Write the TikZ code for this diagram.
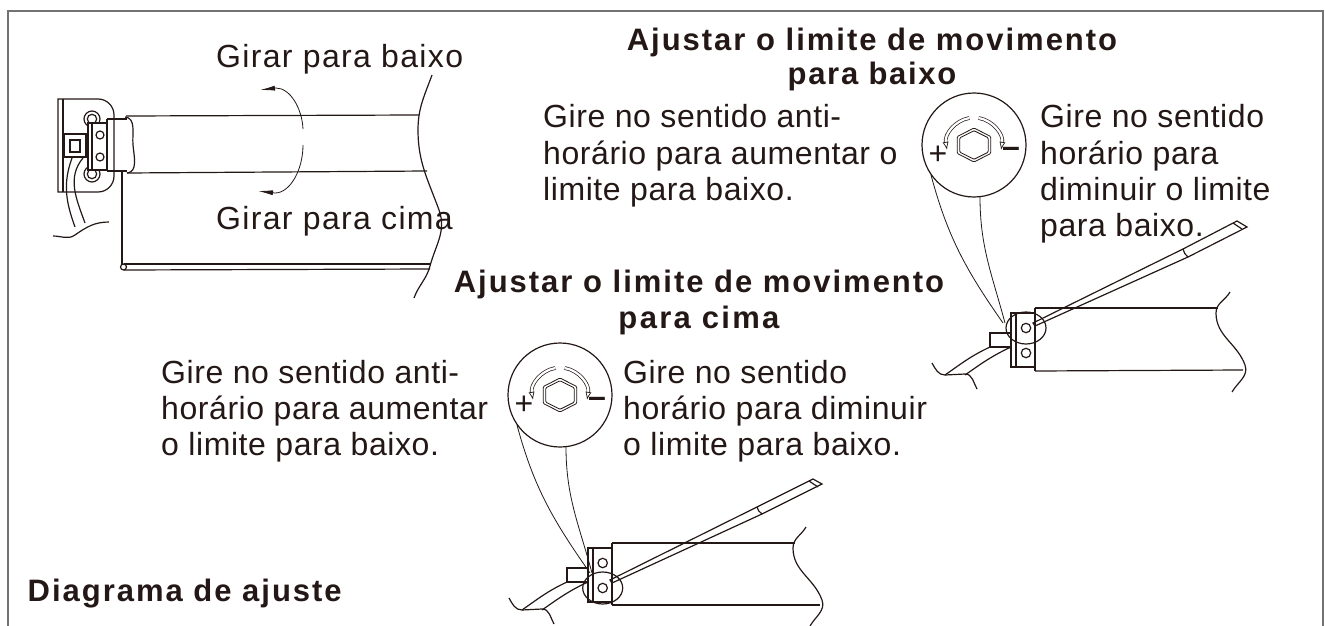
\documentclass[tikz,border=0pt]{standalone}
\usepackage{fontspec}
\setmainfont{Liberation Sans}
\newfontfamily\tracksmall[LetterSpace=1.8]{Liberation Sans}
\newfontfamily\trackfour[LetterSpace=4.2]{Liberation Sans}
\newfontfamily\trackfive[LetterSpace=5.5]{Liberation Sans}
\newfontfamily\tracksix[LetterSpace=6.4]{Liberation Sans}
\newfontfamily\trackeight[LetterSpace=7.5]{Liberation Sans}
\usetikzlibrary{arrows.meta,positioning}
\definecolor{ink}{HTML}{231815}
\tikzset{
	line/.style={draw=ink,line width=1.2pt},
	thin line/.style={draw=ink,line width=0.8pt},
	hollow arrow/.style={draw=ink,line width=0.7pt,double=white,double distance=2.2pt,-{Latex[open,length=8pt,width=6pt]}},
	turn arrow/.style={thin line,-{Latex[length=15pt,width=5pt]}},
	label text/.style={text=ink,font=#1\fontsize{32}{36.2}\selectfont,align=left,inner sep=0pt,anchor=north west},
	title text/.style={text=ink,font=\tracksix\bfseries\fontsize{31}{36}\selectfont,align=center,inner sep=0pt,anchor=north},
	sign text/.style={text=ink,font=\fontsize{32}{32}\selectfont,inner sep=0pt},
	pics/magnifier/.style={code={
		\draw[line] (0,0) circle (52);
		\draw[thin line,rounded corners=1pt] (0,-17) -- (16.7,-8.5) -- (16.7,8.5) -- (0,17) -- (-16.7,8.5) -- (-16.7,-8.5) -- cycle;
		\draw[thin line,rounded corners=1pt] (0,-14.3) -- (14.2,-7.2) -- (14.2,7.2) -- (0,14.3) -- (-14.2,7.2) -- (-14.2,-7.2) -- cycle;
		\draw[hollow arrow] (-4.7,-27) arc (-100:-190:27.5);
		\draw[hollow arrow] (4.7,-27) arc (-80:10:27.5);
		\node[sign text] (plus) at (-36,10) {+};
		\node[sign text] (minus) at (37,7) {\textbf{--}};
	}},
}
\begin{document}
\begin{tikzpicture}[x=1pt,y=-1pt]
	\useasboundingbox (0,0) rectangle (1325,626);
	% frame
	\draw[draw=black!55,line width=1.6pt] (8,626) -- (8,11) -- (1323,11) -- (1323,626);

	% texts
	\node[label text=\trackfour] (down) at (216,43.7) {Girar para baixo};
	\node[label text=\trackfour] (up) at (216,205.7) {Girar para cima};
	\node[title text] (titletop) at (872,28) {Ajustar o limite de movimento\\[-2pt]\trackfive para baixo};
	\node[title text] (titlelow) at (699,270) {Ajustar o limite de movimento\\\trackeight para cima};
	\node[label text=\tracksmall] (ccwtop) at (543,104.5) {Gire no sentido anti-\\horário para aumentar o\\limite para baixo.};
	\node[label text=\tracksmall] (cwtop) at (1040,104.5) {Gire no sentido\\horário para\\diminuir o limite\\para baixo.};
	\node[label text=\tracksmall] (ccwlow) at (161,359.7) {Gire no sentido anti-\\horário para aumentar\\o limite para baixo.};
	\node[label text=\tracksmall] (cwlow) at (623,359.7) {Gire no sentido\\horário para diminuir\\o limite para baixo.};
	\node[title text,anchor=base west] (diagram) at (27.5,601) {Diagrama de ajuste};

	% motor bracket
	\draw[line] (58,99) -- (98,99) to[out=0,in=90] (114,115) -- (114,176) to[out=270,in=0] (98,192) -- (58,192) -- cycle;
	\draw[line] (63,99) -- (63,192);
	\draw[line,fill=white] (92,119) circle (8);
	\draw[line] (92,119) circle (4.7);
	\draw[line,fill=white] (92,174) circle (8);
	\draw[line] (92,174) circle (4.7);
	\draw[line,fill=white] (88,123) -- (107,123) -- (107,170) -- (88,170) -- cycle;
	\draw[line] (92,123) -- (92,170);
	\draw[line] (100,135) circle (4) (100,157) circle (4);
	\draw[line] (107,119) -- (127,119);
	\draw[line] (107,171) -- (127,171);
	\draw[line] (107,119) -- (107,171);
	\draw[line,fill=white] (64,134) rectangle (86,157);
	\draw[line] (70,140) rectangle (80,152);
	\draw[line] (72,158) to[out=250,in=110] (75,227);
	\draw[line] (83,158) to[out=230,in=110] (85,223);
	\draw[line] (53,236) to[out=0,in=215] (75,235) to[out=35,in=180] (109,222);

	% roller
	\draw[line] (126,116) -- (419,115);
	\draw[line] (127,173) -- (427,171);
	\draw[line] (125,117) to[out=-5,in=95] (133,145) to[out=-85,in=5] (127,173);
	\draw[line] (122,172) -- (122,265);
	\draw[line] (124,264) -- (430,264);
	\draw[line] (124,270) -- (430,269);
	\draw[line] (123.5,267) circle (3);
	\draw[line] (432,75) to[out=250,in=90] (418,130) to[out=270,in=110] (439,210) to[out=290,in=75] (430,266) to[out=255,in=70] (414,298);

	% rotate arrows
	\draw[turn arrow] (303,129) .. controls (302,108) and (290,88) .. (276,88) -- (260,90);
	\draw[turn arrow] (303,145) .. controls (303,170) and (290,193) .. (275,193) -- (258,191);

	% top assembly
	\pic at (974,145) {magnifier};
	\draw[thin line] (931,175) to[out=285,in=125] (1003,323);
	\draw[thin line] (980,197) to[out=270,in=105] (1005,323);
	\draw[line] (1035,308) -- (1218,308);
	\draw[line] (1035,371) -- (1243,370);
	\draw[line] (1035,308) -- (1035,371);
	\draw[line] (1011,313) rectangle (1035,367);
	\draw[line] (1016,313) -- (1016,367);
	\draw[line] (1026,328) circle (4.7) (1026,353) circle (4.7);
	\draw[line] (1026,328) ellipse (20 and 16);
	\draw[line] (990,333) rectangle (1011,347);
	\draw[line] (945,375) to[out=35,in=205] (990,347);
	\draw[line] (965,375) to[out=35,in=205] (1011,347);
	\draw[line] (932,363) to[out=300,in=180] (945,375) -- (965,374) to[out=0,in=120] (977,389);
	\draw[line] (1230,292) to[out=240,in=90] (1216,313) to[out=270,in=110] (1245,365) to[out=290,in=60] (1232,392);
	% top tool
	\draw[line] (1033,323) -- (1183,249) -- (1237,221) -- (1247,227) -- (1188,257) -- (1035,326) -- cycle;
	\draw[line] (1183,249) to[bend right=20] (1188,257);
	\draw[line] (1233,223) -- (1242,229);

	% lower assembly
	\pic at (560,395) {magnifier};
	\draw[thin line] (517,425) to[out=285,in=125] (590,573);
	\draw[thin line] (566,447) to[out=270,in=105] (592,573);
	\draw[line] (612,543) -- (795,543);
	\draw[line] (612,605) -- (820,605);
	\draw[line] (612,543) -- (612,605);
	\draw[line] (588,548) rectangle (612,602);
	\draw[line] (593,548) -- (593,602);
	\draw[line] (602.7,588) circle (4.7) (602.7,563) circle (4.7);
	\draw[line] (602.7,588) ellipse (20 and 16);
	\draw[line] (567,568) rectangle (588,582);
	\draw[line] (522,610) to[out=35,in=205] (567,582);
	\draw[line] (542,610) to[out=35,in=205] (588,582);
	\draw[line] (509,598) to[out=300,in=180] (522,610) -- (542,609) to[out=0,in=120] (554,624);
	\draw[line] (806,527) to[out=240,in=90] (793,548) to[out=270,in=110] (822,600) to[out=290,in=60] (810,626);
	% lower tool
	\draw[line] (610,580) -- (757,507) -- (813,479) -- (822,484) -- (762,514) -- (612,583) -- cycle;
	\draw[line] (757,507) to[bend right=20] (762,514);
	\draw[line] (809,481) -- (818,487);
\end{tikzpicture}
\end{document}
